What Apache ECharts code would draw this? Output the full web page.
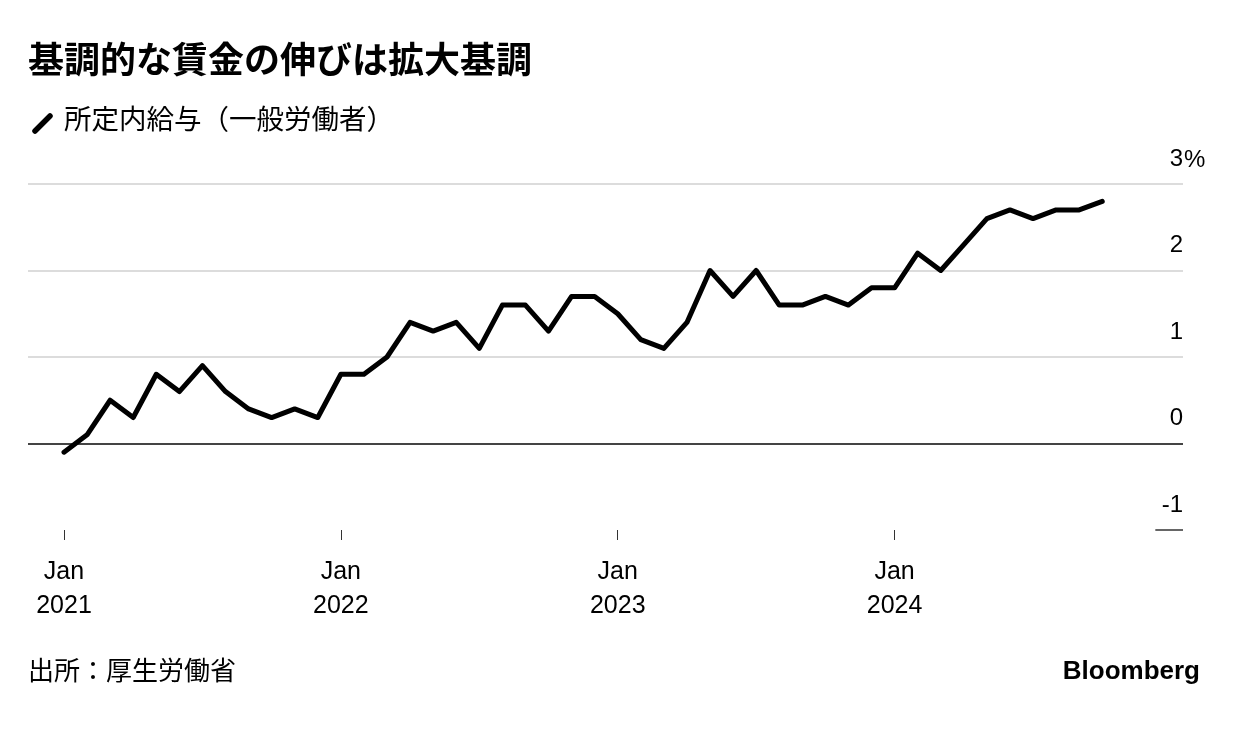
<!DOCTYPE html>
<html>
<head>
<meta charset="utf-8">
<script src="https://cdn.jsdelivr.net/npm/echarts@6/dist/echarts.min.js"></script>
<style>
html,body{margin:0;padding:0;background:#fff;}
#chart{width:1240px;height:732px;}
</style>
</head>
<body>
<div id="chart"></div>
<script>
const titleText = '基調的な賃金の伸びは拡大基調';
const seriesName = '所定内給与（一般労働者）';
const sourceText = '出所：厚生労働省';
const months = [
  '2021-01','2021-02','2021-03','2021-04','2021-05','2021-06','2021-07','2021-08','2021-09','2021-10','2021-11','2021-12',
  '2022-01','2022-02','2022-03','2022-04','2022-05','2022-06','2022-07','2022-08','2022-09','2022-10','2022-11','2022-12',
  '2023-01','2023-02','2023-03','2023-04','2023-05','2023-06','2023-07','2023-08','2023-09','2023-10','2023-11','2023-12',
  '2024-01','2024-02','2024-03','2024-04','2024-05','2024-06','2024-07','2024-08','2024-09','2024-10'
];
const wageGrowth = [
  -0.1, 0.1, 0.5, 0.3, 0.8, 0.6, 0.9, 0.6, 0.4, 0.3, 0.4, 0.3,
  0.8, 0.8, 1.0, 1.4, 1.3, 1.4, 1.1, 1.6, 1.6, 1.3, 1.7, 1.7,
  1.5, 1.2, 1.1, 1.4, 2.0, 1.7, 2.0, 1.6, 1.6, 1.7, 1.6, 1.8,
  1.8, 2.2, 2.0, 2.3, 2.6, 2.7, 2.6, 2.7, 2.7, 2.8
];
const tickMonths = ['2021-01','2022-01','2023-01','2024-01'];
const yTicks = [-1, 0, 1, 2, 3];

const latin = "'Liberation Sans', Arial, Helvetica, 'Noto Sans CJK JP', sans-serif";
const cjk = "'Noto Sans CJK JP', 'Liberation Sans', sans-serif";

const lineData = wageGrowth.map((v, i) => [i, v]);
const tickIdx = tickMonths.map(m => months.indexOf(m));

const chart = echarts.init(document.getElementById('chart'), null, {renderer: 'canvas'});
chart.setOption({
  backgroundColor: '#fff',
  animation: false,
  grid: {left: 28, right: 57, top: 184, bottom: 202, containLabel: false},
  xAxis: {
    type: 'value',
    min: -1.56,
    max: 48.5,
    axisLine: {show: false, onZero: false},
    splitLine: {show: false},
    axisTick: {show: true, customValues: tickIdx, length: 10, lineStyle: {color: '#333', width: 1}},
    axisLabel: {
      customValues: tickIdx,
      margin: 25,
      fontFamily: latin,
      fontSize: 25,
      color: '#000',
      lineHeight: 34,
      formatter: v => {
        const m = months[Math.round(v)];
        return 'Jan\n' + m.slice(0, 4);
      }
    }
  },
  yAxis: {
    type: 'value',
    position: 'right',
    min: yTicks[0],
    max: yTicks[yTicks.length - 1],
    interval: 1,
    axisLine: {show: false},
    axisTick: {show: false},
    splitLine: {show: true, lineStyle: {color: ['rgba(0,0,0,0)', '#444', '#dcdcdc', '#dcdcdc', '#dcdcdc'], width: 2}},
    axisLabel: {
      inside: true,
      margin: 0,
      verticalAlign: 'bottom',
      padding: [0, 0, 13, 0],
      fontFamily: latin,
      fontSize: 24,
      color: '#000',
      formatter: v => String(v)
    }
  },
  series: [{
    name: seriesName,
    type: 'line',
    data: lineData,
    showSymbol: false,
    symbol: 'none',
    lineStyle: {color: '#000', width: 5, cap: 'round', join: 'round'},
    z: 5,
    markLine: {
      silent: true,
      symbol: 'none',
      label: {show: false},
      lineStyle: {color: '#333', width: 1.5, type: 'solid'},
      data: [[{coord: [47.3, -1]}, {coord: [48.5, -1]}]]
    }
  }],
  graphic: [
    {type: 'text', left: 28, top: 41, style: {text: titleText, font: "bold 36px " + cjk, fill: '#000'}},
    {type: 'line', shape: {x1: 35, y1: 131, x2: 50, y2: 116}, style: {stroke: '#000', lineWidth: 5.5, lineCap: 'round'}},
    {type: 'text', left: 64, top: 105, style: {text: seriesName, font: "27.5px " + cjk, fill: '#000'}},
    {type: 'text', left: 1184, top: 148, style: {text: '%', font: "24px " + latin, fill: '#000'}},
    {type: 'text', left: 28, top: 657, style: {text: sourceText, font: "26px " + cjk, fill: '#000'}},
    {type: 'text', right: 40, top: 659, style: {text: 'Bloomberg', font: "bold 26px " + latin, fill: '#000'}}
  ]
});
</script>
</body>
</html>
